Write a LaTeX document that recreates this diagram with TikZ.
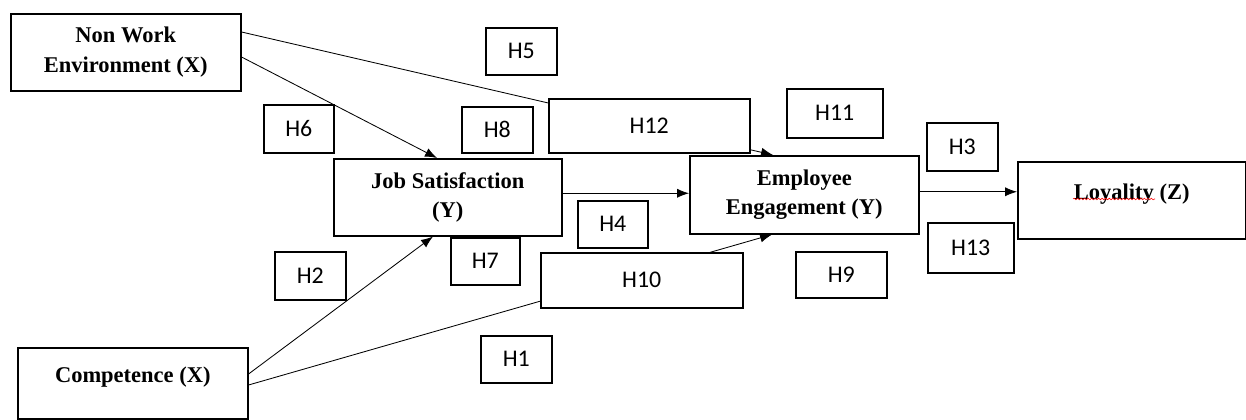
\documentclass[tikz,border=0pt]{standalone}
\usepackage{fontspec}
\setmainfont{Liberation Serif}
\newfontfamily\hfont{Carlito}
\usetikzlibrary{arrows.meta, decorations.pathmorphing}

\tikzset{
    varbox/.style={draw, rectangle, line width=1.1pt, fill=white, align=center, anchor=north west, inner sep=0pt, font=\fontsize{16}{21}\selectfont\bfseries},
    hbox/.style={draw, rectangle, line width=1.1pt, fill=white, anchor=north west, inner sep=0pt, font=\hfont\fontsize{17}{20}\selectfont},
    link/.style={line width=0.6pt, -{Latex[length=8.5pt,width=6.5pt]}}
}

\begin{document}
\begin{tikzpicture}
    \useasboundingbox (0,0) rectangle (31.15,10.475);

    %% variables
    \draw
    (0.25,10.15)node[varbox, minimum width=5.75cm, minimum height=1.925cm](nwe){Non Work\\Environment (X)}
    (8.325,6.525)node[varbox, minimum width=5.7cm, minimum height=1.925cm](js){Job Satisfaction\\(Y)}
    (17.225,6.6)node[varbox, minimum width=5.725cm, minimum height=1.95cm](ee){Employee\\Engagement (Y)}
    (25.425,6.45)node[varbox, minimum width=5.7cm, minimum height=1.925cm, text height=11pt, text depth=12.5pt](loy){Loyality (Z)}
    (0.425,1.8)node[varbox, minimum width=5.75cm, minimum height=1.775cm, text height=11pt, text depth=12.5pt](comp){Competence (X)}
    ;
    % spell-check wave under the word
    \draw[red, line width=0.4pt, decorate, decoration={snake, amplitude=0.6pt, segment length=2.5pt}]
    ([xshift=1.4cm, yshift=-0.95cm]loy.north west) -- ([xshift=3.45cm, yshift=-0.95cm]loy.north west);

    %% paths
    \draw[link] ([yshift=-0.475cm]nwe.north east) -- ([xshift=2.1cm]ee.north west);
    \draw[link] ([yshift=-1.1cm]nwe.north east) -- ([xshift=2.6cm]js.north west);
    \draw[link] ([yshift=0.1cm]js.east) -- ([yshift=0.1cm]js.east -| ee.west);
    \draw[link] ([yshift=0.075cm]ee.east) -- ([yshift=0.075cm]ee.east -| loy.west);
    \draw[link] ([yshift=-0.675cm]comp.north east) -- ([xshift=2.5cm]js.south west);
    \draw[link] ([yshift=-0.95cm]comp.north east) -- ([xshift=2.075cm]ee.south west);

    %% hypotheses
    \draw
    (12.125,9.8)node[hbox, minimum width=1.775cm, minimum height=1.175cm](h5){H5}
    (6.575,7.875)node[hbox, minimum width=1.75cm, minimum height=1.2cm](h6){H6}
    (11.525,7.825)node[hbox, minimum width=1.775cm, minimum height=1.15cm](h8){H8}
    (13.7,8.025)node[hbox, minimum width=5.025cm, minimum height=1.35cm](h12){H12}
    (19.65,8.275)node[hbox, minimum width=2.4cm, minimum height=1.225cm](h11){H11}
    (23.15,7.425)node[hbox, minimum width=1.775cm, minimum height=1.2cm](h3){H3}
    (14.425,5.475)node[hbox, minimum width=1.75cm, minimum height=1.175cm](h4){H4}
    (11.25,4.55)node[hbox, minimum width=1.725cm, minimum height=1.175cm](h7){H7}
    (13.5,4.175)node[hbox, minimum width=5.05cm, minimum height=1.375cm](h10){H10}
    (19.875,4.2)node[hbox, minimum width=2.275cm, minimum height=1.15cm](h9){H9}
    (23.175,4.925)node[hbox, minimum width=2.15cm, minimum height=1.25cm](h13){H13}
    (6.85,4.2)node[hbox, minimum width=1.775cm, minimum height=1.2cm](h2){H2}
    (12.0,2.1)node[hbox, minimum width=1.775cm, minimum height=1.175cm](h1){H1}
    ;
\end{tikzpicture}
\end{document}
